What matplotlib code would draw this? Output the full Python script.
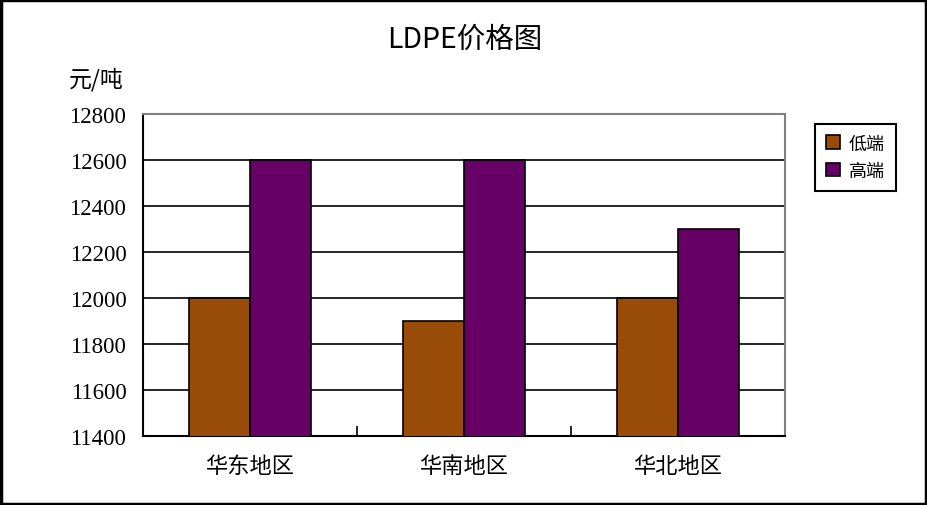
import matplotlib.pyplot as plt
import matplotlib.patches as mpatches
import numpy as np

# data
regions = ['华东地区', '华南地区', '华北地区']
low_price = [12000, 11900, 12000]
high_price = [12600, 12600, 12300]
y_ticks = [11400, 11600, 11800, 12000, 12200, 12400, 12600, 12800]

plt.rcParams['font.family'] = ['Liberation Serif', 'Noto Sans CJK SC']

fig = plt.figure(figsize=(9.28, 5.06), dpi=100)
ax = fig.add_axes([143 / 928, 1 - 437 / 506, 642 / 928, 322 / 506])

x = np.arange(len(regions))
w = 0.285
ax.bar(x - w / 2, low_price, w, color='#994C08', edgecolor='black', linewidth=1.2, zorder=3, label='低端')
ax.bar(x + w / 2, high_price, w, color='#660066', edgecolor='black', linewidth=1.2, zorder=3, label='高端')

ax.set_xlim(-0.5, 2.5)
ax.set_ylim(11400, 12800)
ax.set_yticks(y_ticks)
ax.set_yticklabels([str(v) for v in y_ticks], fontsize=16.5)
ax.yaxis.grid(True, color='black', linewidth=1.2, zorder=0)
ax.tick_params(axis='y', length=0, pad=12)

# category boundaries as x ticks, labels at the centres
ax.set_xticks([0.5, 1.5])
ax.set_xticklabels([])
ax.set_xticks(x, minor=True)
ax.set_xticklabels(regions, minor=True, fontsize=16, family=['Noto Sans CJK SC'])
ax.tick_params(axis='x', which='major', direction='in', length=7, width=1.2)
ax.tick_params(axis='x', which='minor', length=0, pad=13)

for side in ['top', 'right']:
    ax.spines[side].set_color('gray')
    ax.spines[side].set_linewidth(1.5)
for side in ['left', 'bottom']:
    ax.spines[side].set_color('black')
    ax.spines[side].set_linewidth(1.5)

fig.text(465 / 928, 1 - 40 / 506, 'LDPE价格图', ha='center', va='center', fontsize=20.5,
         family=['Noto Sans CJK SC'])
fig.text(69 / 928, 1 - 80 / 506, '元/吨', ha='left', va='center', fontsize=16.5,
         family=['Noto Sans CJK SC'])

handles = [mpatches.Patch(facecolor='#994C08', edgecolor='black', linewidth=1.2, label='低端'),
           mpatches.Patch(facecolor='#660066', edgecolor='black', linewidth=1.2, label='高端')]
leg = fig.legend(handles=handles, loc='upper left', bbox_to_anchor=(804 / 928, 1 - 114 / 506),
                 fancybox=False, edgecolor='black', framealpha=1, handlelength=0.8, handleheight=0.8,
                 handletextpad=0.5, borderpad=0.6, borderaxespad=0.6, labelspacing=0.5,
                 prop={'family': ['Noto Sans CJK SC'], 'size': 13})
leg.get_frame().set_linewidth(1.5)

# outer frame around the figure
fig.patches.append(mpatches.Rectangle((0.001, 0.002), 0.997, 0.996, transform=fig.transFigure,
                                      fill=False, edgecolor='black', linewidth=2.5))

fig.savefig('out.png', dpi=100)
